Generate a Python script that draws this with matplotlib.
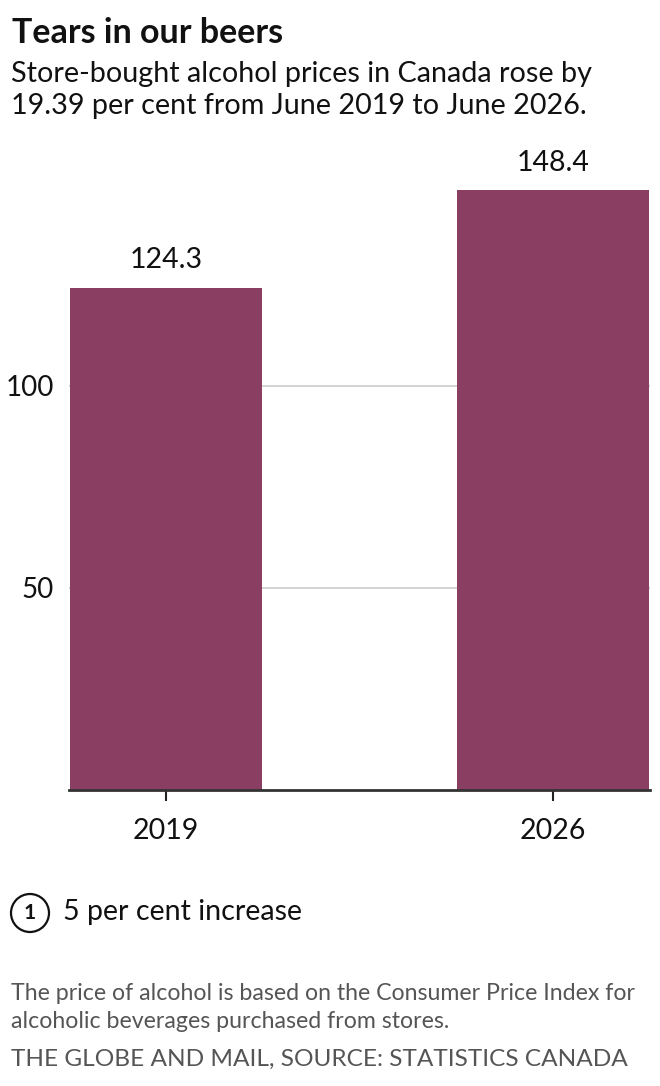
import matplotlib
matplotlib.use("Agg")
import matplotlib.pyplot as plt
from matplotlib.patches import Ellipse

years = ["2019", "2026"]
prices = [124.3, 148.4]
yticks = [50, 100]

title = "Tears in our beers"
subtitle = ["Store-bought alcohol prices in Canada rose by",
            "19.39 per cent from June 2019 to June 2026."]
legend_text = "5 per cent increase"
note = ["The price of alcohol is based on the Consumer Price Index for",
        "alcoholic beverages purchased from stores."]
source = "THE GLOBE AND MAIL, SOURCE: STATISTICS CANADA"

W, H = 660, 1086
BAR = "#8a3f62"
FONT = "Lato"

plt.rcParams["font.family"] = [FONT, "DejaVu Sans"]

fig = plt.figure(figsize=(W / 100, H / 100), dpi=100)


def fx(x):
    return x / W


def fy(y):
    return 1 - y / H


# axes placed in pixel terms: baseline at y=790, 4.04 px per unit
ymax = 160
ax_h = ymax * 4.04
ax = fig.add_axes([fx(69), fy(790), 581 / W, ax_h / H])

xs = range(len(years))
ax.bar(xs, prices, width=0.495, color=BAR, zorder=2)
ax.set_xlim(-0.25, 1.25)
ax.set_ylim(0, ymax)

for y in yticks:
    ax.axhline(y, color="#cccccc", lw=1.2, zorder=1)

for x, v in zip(xs, prices):
    ax.text(x, v + 3.6, f"{v:.1f}", ha="center", va="bottom", fontsize=20.5, color="#111111")

ax.set_xticks(list(xs))
ax.set_xticklabels(years, fontsize=20.5, color="#111111")
ax.set_yticks(yticks)
ax.set_yticklabels([str(t) for t in yticks], fontsize=20, color="#111111")
ax.tick_params(axis="y", length=0, pad=11)
ax.tick_params(axis="x", length=8, width=1.5, color="#222222", pad=12)

for s in ["top", "right", "left"]:
    ax.spines[s].set_visible(False)
ax.spines["bottom"].set_color("#333333")
ax.spines["bottom"].set_linewidth(2)

# header
fig.text(fx(12), fy(33), title, fontsize=24.5, fontweight="bold", va="center", color="#111111")
fig.text(fx(11), fy(74), subtitle[0], fontsize=20.7, va="center", color="#111111")
fig.text(fx(11), fy(106), subtitle[1], fontsize=20.7, va="center", color="#111111")

# legend
circ = Ellipse((fx(30), fy(913)), 38 / W, 38 / H, transform=fig.transFigure,
               fill=False, lw=1.6, edgecolor="#111111")
fig.patches.append(circ)
fig.text(fx(30), fy(913), "1", fontsize=15, fontweight="bold", ha="center", va="center", color="#111111")
fig.text(fx(63), fy(912), legend_text, fontsize=20.6, va="center", color="#111111")

# footer
fig.text(fx(11), fy(993), note[0], fontsize=16.7, va="center", color="#555555")
fig.text(fx(11), fy(1022), note[1], fontsize=16.7, va="center", color="#555555")
fig.text(fx(11), fy(1059), source, fontsize=17.6, va="center", color="#555555")

fig.savefig("out.png", dpi=100)
